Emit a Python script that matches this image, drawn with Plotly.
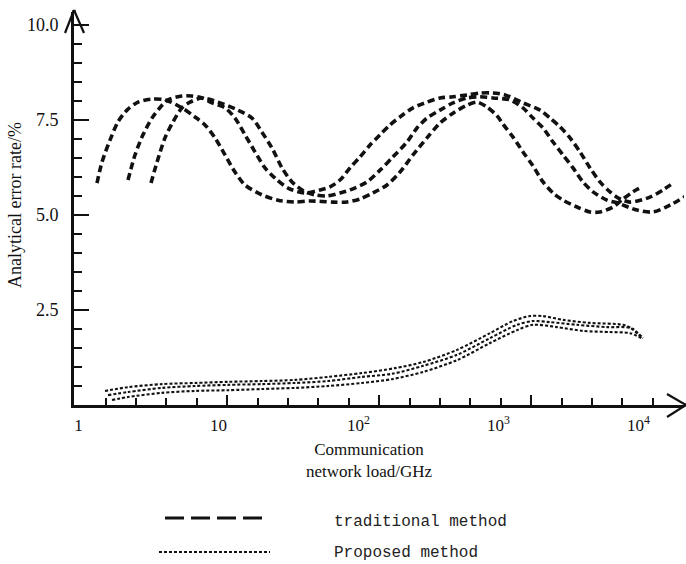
import plotly.graph_objects as go

# ---------------- data ----------------
# Traditional method (three curves)
trad1_x = [1.358, 1.474, 1.681, 1.918, 2.224, 2.666, 3.356, 4.155, 5.495, 6.806, 8.024, 9.456,
           11.15, 13.14, 15.49, 20.48, 26.66, 35.25, 45.11, 65.85, 82.9, 102.7, 127.1, 160.1,
           198.2, 245.5, 309.0, 382.7, 474.0, 596.7, 703.4, 829.1, 977.2, 1079, 1272, 1499,
           1767, 2083, 2455, 2893, 3643, 4511, 5317, 6585, 7762, 9150, 10610]
trad1_y = [5.84, 6.39, 6.97, 7.45, 7.76, 7.97, 8.05, 8.03, 7.82, 7.58, 7.37, 7.03,
           6.58, 6.13, 5.79, 5.53, 5.39, 5.34, 5.37, 5.34, 5.34, 5.42, 5.58, 5.79,
           6.13, 6.58, 7.03, 7.42, 7.68, 7.89, 7.97, 7.84, 7.61, 7.39, 7.05, 6.66,
           6.29, 5.87, 5.58, 5.39, 5.21, 5.08, 5.08, 5.21, 5.42, 5.61, 5.74]

trad2_x = [2.261, 2.537, 2.893, 3.356, 3.955, 4.365, 5.495, 6.478, 7.636, 9.00, 11.15, 13.14,
           15.49, 18.26, 21.52, 25.37, 31.42, 41.55, 53.17, 62.68, 73.88, 87.10, 102.7, 121.0,
           142.7, 168.1, 198.2, 245.5, 309.0, 382.7, 474.0, 596.7, 739.1, 915.0, 1115, 1499,
           1982, 2337, 2754, 3247, 3827, 4511, 5317, 6268, 7151, 8710, 12100, 14990, 17670]
trad2_y = [5.92, 6.58, 7.11, 7.55, 7.89, 8.03, 8.13, 8.13, 8.08, 7.95, 7.82, 7.55,
           7.11, 6.66, 6.24, 5.97, 5.71, 5.58, 5.66, 5.74, 5.92, 6.24, 6.53, 6.84,
           7.11, 7.37, 7.58, 7.82, 7.97, 8.08, 8.11, 8.16, 8.21, 8.21, 8.16, 7.95,
           7.76, 7.55, 7.32, 7.03, 6.66, 6.24, 5.87, 5.61, 5.45, 5.34, 5.47, 5.66, 5.84]

trad3_x = [3.301, 3.643, 4.155, 4.740, 5.495, 6.268, 7.636, 9.934, 13.80, 17.38, 20.48, 24.15,
           28.47, 33.56, 41.55, 48.98, 59.67, 73.88, 87.10, 115.2, 142.7, 176.7, 222.4, 262.1,
           309.0, 382.7, 474.0, 596.7, 739.1, 915.0, 1210, 1499, 1767, 2083, 2455, 2893,
           3411, 4020, 4740, 5967, 7034, 9772, 12720, 16810, 21880]
trad3_y = [5.84, 6.39, 7.03, 7.45, 7.82, 7.97, 8.08, 7.97, 7.76, 7.55, 7.18, 6.76,
           6.24, 5.87, 5.61, 5.53, 5.50, 5.58, 5.66, 5.87, 6.18, 6.53, 6.92, 7.29,
           7.55, 7.76, 7.95, 8.08, 8.11, 8.08, 8.03, 7.82, 7.55, 7.29, 6.92, 6.58,
           6.24, 5.87, 5.61, 5.39, 5.32, 5.13, 5.08, 5.26, 5.50]

# Proposed method (three curves)
prop1_x = [1.549, 2.261, 3.955, 6.806, 11.71, 20.48, 35.25, 60.67, 106.1, 182.6, 289.3,
           506.1, 871.0, 1272, 1681, 2083, 2893, 4511, 7762, 9150, 10790]
prop1_y = [0.37, 0.47, 0.55, 0.58, 0.61, 0.63, 0.66, 0.74, 0.84, 0.97, 1.13,
           1.45, 1.89, 2.21, 2.34, 2.34, 2.24, 2.16, 2.11, 2.00, 1.76]

prop2_x = [1.627, 2.261, 3.955, 6.806, 11.71, 20.48, 35.25, 60.67, 106.1, 173.8, 289.3,
           506.1, 871.0, 1358, 1767, 2337, 3643, 5967, 8710, 9772, 10790]
prop2_y = [0.26, 0.34, 0.45, 0.50, 0.53, 0.55, 0.58, 0.63, 0.74, 0.82, 1.03,
           1.32, 1.76, 2.11, 2.21, 2.18, 2.11, 2.05, 2.03, 1.89, 1.76]

prop3_x = [1.738, 2.261, 3.955, 6.806, 11.71, 20.48, 35.25, 60.67, 106.1, 173.8, 289.3,
           506.1, 871.0, 1358, 1767, 2621, 4020, 6268, 8710, 10790]
prop3_y = [0.13, 0.21, 0.32, 0.37, 0.39, 0.42, 0.45, 0.50, 0.58, 0.68, 0.87,
           1.18, 1.63, 1.97, 2.11, 2.05, 1.95, 1.92, 1.89, 1.74]

# Axis labels
x_label_vals = [1, 10, 100, 1000, 10000]
x_label_text = ["1", "10", "10<sup>2</sup>", "10<sup>3</sup>", "10<sup>4</sup>"]
y_label_vals = [2.5, 5.0, 7.5, 10.0]
y_label_text = ["2.5", "5.0", "7.5", "10.0"]
x_title = "Communication<br>network load/GHz"
y_title = "Analytical error rate/%"
legend_names = ["traditional method", "Proposed method"]

# ---------------- figure ----------------
INK = "#111111"
SERIF = "Liberation Serif, Times New Roman, serif"
MONO = "Liberation Mono, DejaVu Sans Mono, monospace"

fig = go.Figure()

for xs, ys in [(trad1_x, trad1_y), (trad2_x, trad2_y), (trad3_x, trad3_y)]:
    fig.add_trace(go.Scatter(x=xs, y=ys, mode="lines", showlegend=False, hoverinfo="skip",
                             line=dict(color=INK, width=3.6, dash="7px,4px", shape="spline",
                                       smoothing=0.8)))

for xs, ys in [(prop1_x, prop1_y), (prop2_x, prop2_y), (prop3_x, prop3_y)]:
    fig.add_trace(go.Scatter(x=xs, y=ys, mode="lines", showlegend=False, hoverinfo="skip",
                             line=dict(color=INK, width=2.1, dash="3px,2px", shape="spline",
                                       smoothing=0.8)))

# invisible trace so the label axis is drawn
fig.add_trace(go.Scatter(x=[1], y=[0], xaxis="x2", mode="markers", showlegend=False,
                         hoverinfo="skip", marker=dict(opacity=0)))

x_range = [-0.0314, 4.3257]
tick_log = [0.195 + 0.2171 * k for k in range(19)]
major_idx = [4, 9, 14]
x_major = [10 ** tick_log[k] for k in major_idx]
x_minor = [10 ** v for i, v in enumerate(tick_log) if i not in major_idx]

fig.update_layout(
    width=686, height=564,
    margin=dict(l=74, r=2, t=12, b=159, autoexpand=False),
    paper_bgcolor="white", plot_bgcolor="white",
    font=dict(family=SERIF, size=17, color=INK),
    xaxis=dict(type="log", range=x_range, showgrid=False, zeroline=False,
               showline=True, linecolor=INK, linewidth=3, automargin=False,
               tickmode="array", tickvals=x_major, showticklabels=False,
               ticks="inside", ticklen=10, tickwidth=2, tickcolor=INK,
               minor=dict(tickmode="array", tickvals=x_minor, ticks="inside",
                          ticklen=7, tickwidth=2, tickcolor=INK)),
    xaxis2=dict(type="log", range=x_range, overlaying="x", anchor="y", side="bottom",
                showgrid=False, zeroline=False, showline=False, automargin=False,
                tickmode="array", tickvals=x_label_vals, ticktext=x_label_text,
                ticks="", ticklabelstandoff=8,
                tickfont=dict(family=SERIF, size=17, color=INK)),
    yaxis=dict(range=[0, 10.342], showgrid=False, zeroline=False,
               showline=True, linecolor=INK, linewidth=3, automargin=False,
               tickmode="array", tickvals=y_label_vals, ticktext=y_label_text,
               ticks="inside", ticklen=15, tickwidth=2.5, tickcolor=INK,
               ticklabelstandoff=9,
               tickfont=dict(family=SERIF, size=18, color=INK),
               minor=dict(tickmode="linear", tick0=0, dtick=0.5, ticks="inside",
                          ticklen=8, tickwidth=2.5, tickcolor=INK)),
)

# axis arrows (open chevrons)
arrow = dict(color=INK, width=2.2)
shapes = [
    # y axis arrow
    dict(type="line", xref="paper", yref="paper", xsizemode="pixel", ysizemode="pixel",
         xanchor=0, yanchor=1, x0=0, x1=0, y0=0, y1=2, line=dict(color=INK, width=3)),
    dict(type="line", xref="paper", yref="paper", xsizemode="pixel", ysizemode="pixel",
         xanchor=0, yanchor=1, x0=-9, x1=0, y0=-21, y1=2, line=arrow),
    dict(type="line", xref="paper", yref="paper", xsizemode="pixel", ysizemode="pixel",
         xanchor=0, yanchor=1, x0=10, x1=0, y0=-21, y1=2, line=arrow),
    # x axis arrow
    dict(type="line", xref="paper", yref="paper", xsizemode="pixel", ysizemode="pixel",
         xanchor=1, yanchor=0, x0=0, x1=2, y0=0, y1=0, line=dict(color=INK, width=3)),
    dict(type="line", xref="paper", yref="paper", xsizemode="pixel", ysizemode="pixel",
         xanchor=1, yanchor=0, x0=-17, x1=2, y0=11, y1=0, line=arrow),
    dict(type="line", xref="paper", yref="paper", xsizemode="pixel", ysizemode="pixel",
         xanchor=1, yanchor=0, x0=-17, x1=2, y0=-12, y1=0, line=arrow),
    # legend samples
    dict(type="line", xref="paper", yref="paper", x0=0.1492, x1=0.3131, y0=-0.2875, y1=-0.2875,
         line=dict(color=INK, width=3, dash="19px,7px")),
    dict(type="line", xref="paper", yref="paper", x0=0.1393, x1=0.3213, y0=-0.374, y1=-0.374,
         line=dict(color=INK, width=2, dash="3px,2px")),
]
fig.update_layout(shapes=shapes)

annotations = [
    dict(text=x_title, xref="paper", yref="paper", x=0.4852, y=-0.14, showarrow=False,
         xanchor="center", yanchor="middle", font=dict(family=SERIF, size=17, color=INK)),
    dict(text=y_title, xref="paper", yref="paper", x=-0.0967, y=0.509, showarrow=False,
         textangle=-90, xanchor="center", yanchor="middle",
         font=dict(family=SERIF, size=18, color=INK)),
    dict(text=legend_names[0], xref="paper", yref="paper", x=0.423, y=-0.2977, showarrow=False,
         xanchor="left", yanchor="middle", font=dict(family=MONO, size=16, color="#222")),
    dict(text=legend_names[1], xref="paper", yref="paper", x=0.423, y=-0.3766, showarrow=False,
         xanchor="left", yanchor="middle", font=dict(family=MONO, size=16, color="#222")),
]
fig.update_layout(annotations=annotations)

fig.write_html("out.html",
               config={"displayModeBar": False, "staticPlot": True},
               post_script="document.body.style.margin='0px';"
                           "document.body.style.overflow='hidden';")
